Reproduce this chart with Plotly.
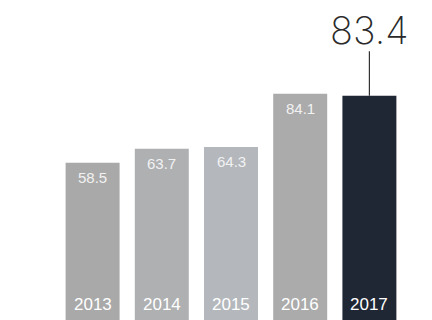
import plotly.graph_objects as go

years = ["2013", "2014", "2015", "2016", "2017"]
values = [58.5, 63.7, 64.3, 84.1, 83.4]
bar_colors = ["#a9a9a9", "#aeb0b2", "#b4b8bd", "#ababab", "#1f2634"]
value_labels = ["58.5", "63.7", "64.3", "84.1", ""]
callout_label = "83.4"

fig = go.Figure()
fig.add_trace(go.Bar(
    x=years, y=values,
    marker=dict(color=bar_colors, line=dict(width=0)),
    hoverinfo="skip",
))

# annotations on a category axis use the category serial number
for i, (yr, v, lab) in enumerate(zip(years, values, value_labels)):
    if lab:
        fig.add_annotation(x=i, y=v, text=lab, showarrow=False, yanchor="top",
                           yshift=-4, font=dict(family="Liberation Sans", size=15, color="#f2f2f2"))
    fig.add_annotation(x=i, y=0, text=yr, showarrow=False, yanchor="bottom",
                       yshift=4, font=dict(family="Liberation Sans", size=17, color="#ffffff"))

# callout for the last bar: leader line + big label
last = len(years) - 1
fig.add_annotation(x=last, y=values[-1], text="", showarrow=True,
                   arrowhead=0, arrowwidth=1.2, arrowcolor="#333333", ax=0, ay=-46,
                   standoff=0)
fig.add_annotation(x=last, y=values[-1], text=callout_label, showarrow=False,
                   yanchor="bottom", yshift=41,
                   font=dict(family="Inter", size=38, color="#2a2a2a", weight=200))

fig.update_layout(
    width=432, height=320,
    margin=dict(l=58, r=28, t=0, b=0),
    paper_bgcolor="white", plot_bgcolor="white",
    bargap=0.22,
    showlegend=False,
    xaxis=dict(visible=False, type="category", categoryorder="array",
               categoryarray=years, range=[-0.5, len(years) - 0.5]),
    yaxis=dict(visible=False, range=[0, 119]),
)

fig.write_html("out.html")
